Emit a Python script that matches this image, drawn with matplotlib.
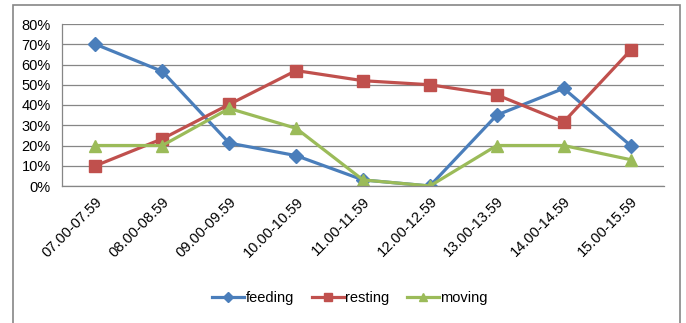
import matplotlib.pyplot as plt
from matplotlib.patches import Rectangle
from matplotlib.ticker import FuncFormatter, MultipleLocator

plt.rcParams["font.family"] = ["Liberation Sans", "DejaVu Sans"]

# time slots and % of observations per behaviour
slots = ["07.00-07.59", "08.00-08.59", "09.00-09.59", "10.00-10.59", "11.00-11.59",
         "12.00-12.59", "13.00-13.59", "14.00-14.59", "15.00-15.59"]
feeding = [70, 56.6, 21.2, 15, 3, 0, 35, 48.2, 20]
resting = [10, 23.3, 40.3, 57, 52, 50, 45, 31.6, 67]
moving = [20, 20, 38.3, 28.5, 3, 0, 20, 20, 13]

SERIES = [
    ("feeding", feeding, "#4A7EBB", "D", 7),
    ("resting", resting, "#C0504D", "s", 8),
    ("moving", moving, "#9BBB59", "^", 8.5),
]

fig = plt.figure(figsize=(6.86, 3.23), dpi=100)
# outer chart frame (bottom edge runs off the image)
fig.patches.append(Rectangle((13 / 686, -0.05), 667 / 686, 1.05 - 5 / 323, transform=fig.transFigure,
                             fill=False, edgecolor="#868686", linewidth=1.2))

ax = fig.add_axes([62 / 686, 1 - 186 / 323, 602 / 686, 162 / 323])
x = list(range(len(slots)))
for name, vals, color, marker, ms in SERIES:
    ax.plot(x, vals, color=color, linewidth=2.3, marker=marker, markersize=ms,
            markerfacecolor=color, markeredgecolor=color, label=name)

ax.set_xlim(-0.5, len(slots) - 0.5)
ax.set_ylim(0, 80)
ax.yaxis.set_major_locator(MultipleLocator(10))
ax.yaxis.set_major_formatter(FuncFormatter(lambda v, _: f"{v:.0f}%"))
ax.grid(axis="y", color="#868686", linewidth=0.9)
ax.set_axisbelow(True)
ax.set_xticks(x)
ax.set_xticklabels(slots, rotation=45, ha="right", rotation_mode="anchor")
ax.tick_params(axis="both", length=0, labelsize=10.5, colors="#000000")
ax.tick_params(axis="y", pad=8)
ax.tick_params(axis="x", pad=6)
for side in ["top", "right"]:
    ax.spines[side].set_visible(False)
for side in ["left", "bottom"]:
    ax.spines[side].set_color("#868686")
    ax.spines[side].set_linewidth(0.9)

fig.legend(loc="center", bbox_to_anchor=(350 / 686, 1 - 298 / 323), ncol=3, frameon=False,
           fontsize=10.5, handlelength=2.2, handletextpad=0.1, columnspacing=1.2, markerscale=0.75)

fig.savefig("out.png", dpi=100)
